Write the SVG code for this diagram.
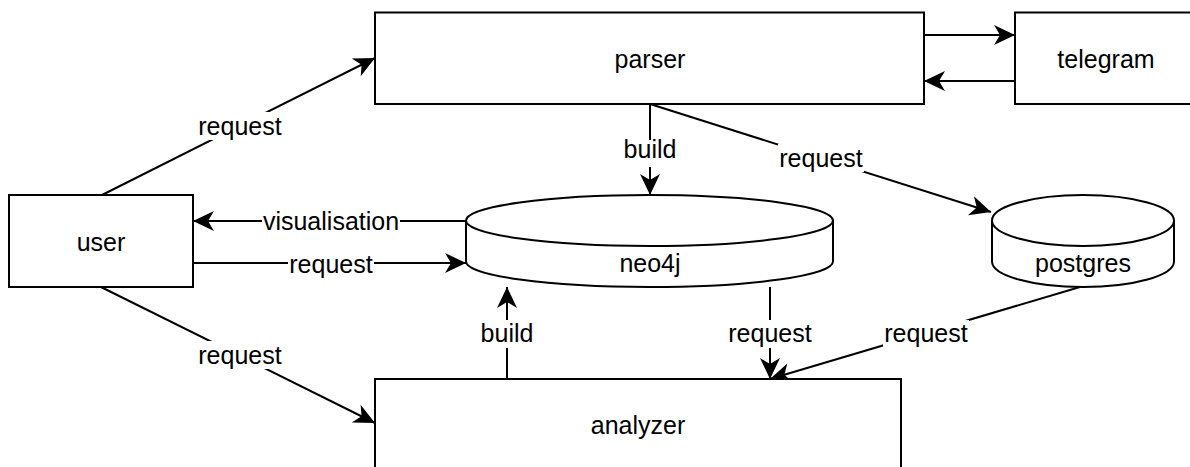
<svg xmlns="http://www.w3.org/2000/svg" width="1190" height="467" viewBox="0 0 1190 467">
<style>
.box{fill:#fff;stroke:#000;stroke-width:2}
.edge{fill:none;stroke:#000;stroke-width:2}
.t{font-family:"Liberation Sans",Arial,Helvetica,sans-serif;font-size:25px;fill:#000;text-anchor:middle}
.bg{fill:#fff}
</style>
<defs>
<marker id="arr" markerUnits="userSpaceOnUse" markerWidth="24" markerHeight="24" viewBox="-22 -12 24 24" refX="0" refY="0" orient="auto">
<path d="M0,0 L-21,-10 L-15,0 L-21,10 Z" fill="#000"/>
</marker>
</defs>
<rect width="1190" height="467" fill="#fff"/>
<g id="connectors">
<line class="edge" x1="102" y1="195" x2="375" y2="58" marker-end="url(#arr)"/>
<line class="edge" x1="924" y1="35" x2="1015" y2="35" marker-end="url(#arr)"/>
<line class="edge" x1="1015" y1="81" x2="924" y2="81" marker-end="url(#arr)"/>
<line class="edge" x1="650" y1="104" x2="650" y2="195" marker-end="url(#arr)"/>
<line class="edge" x1="650" y1="104" x2="991" y2="212" marker-end="url(#arr)"/>
<line class="edge" x1="466" y1="221" x2="193" y2="221" marker-end="url(#arr)"/>
<line class="edge" x1="193" y1="263" x2="466" y2="263" marker-end="url(#arr)"/>
<line class="edge" x1="101" y1="287" x2="375" y2="423" marker-end="url(#arr)"/>
<line class="edge" x1="507" y1="379" x2="507" y2="287" marker-end="url(#arr)"/>
<line class="edge" x1="770" y1="287" x2="770" y2="379" marker-end="url(#arr)"/>
<line class="edge" x1="1080" y1="287" x2="770" y2="379" marker-end="url(#arr)"/>
<g id="labels">
<rect class="bg" x="197" y="112" width="86" height="28"/><text class="t" x="240" y="135">request</text>
<rect class="bg" x="623" y="140" width="55" height="27"/><text class="t" x="650" y="158">build</text>
<rect class="bg" x="778" y="144" width="86" height="28"/><text class="t" x="821" y="167">request</text>
<rect class="bg" x="262" y="207" width="138" height="28"/><text class="t" x="331" y="230">visualisation</text>
<rect class="bg" x="288" y="250" width="86" height="28"/><text class="t" x="331" y="273">request</text>
<rect class="bg" x="197" y="341" width="86" height="28"/><text class="t" x="240" y="364">request</text>
<rect class="bg" x="480" y="320" width="55" height="28"/><text class="t" x="507" y="342">build</text>
<rect class="bg" x="727" y="320" width="86" height="28"/><text class="t" x="770" y="342">request</text>
<rect class="bg" x="883" y="320" width="86" height="28"/><text class="t" x="926" y="342">request</text>
</g>
</g>
<g id="parser">
<rect class="box" x="375" y="12.5" width="549" height="91.5"/>
<text class="t" x="650" y="68">parser</text>
</g>
<g id="telegram">
<rect class="box" x="1015" y="12.5" width="185" height="91.5"/>
<text class="t" x="1106" y="68">telegram</text>
</g>
<g id="user">
<rect class="box" x="9" y="195" width="184" height="92"/>
<text class="t" x="101" y="251">user</text>
</g>
<g id="neo4j">
<path class="box" d="M466,220.5 A183.5,25.5 0 0 1 833,220.5 L833,261.5 A183.5,25.5 0 0 1 466,261.5 Z"/>
<path class="edge" d="M466,220.5 A183.5,25.5 0 0 0 833,220.5"/>
<text class="t" x="650" y="272">neo4j</text>
</g>
<g id="postgres">
<path class="box" d="M992,220.5 A91,25.5 0 0 1 1174,220.5 L1174,261.5 A91,25.5 0 0 1 992,261.5 Z"/>
<path class="edge" d="M992,220.5 A91,25.5 0 0 0 1174,220.5"/>
<text class="t" x="1083" y="272">postgres</text>
</g>
<g id="analyzer">
<rect class="box" x="375" y="379" width="526" height="100"/>
<text class="t" x="638" y="434">analyzer</text>
</g>
</svg>
